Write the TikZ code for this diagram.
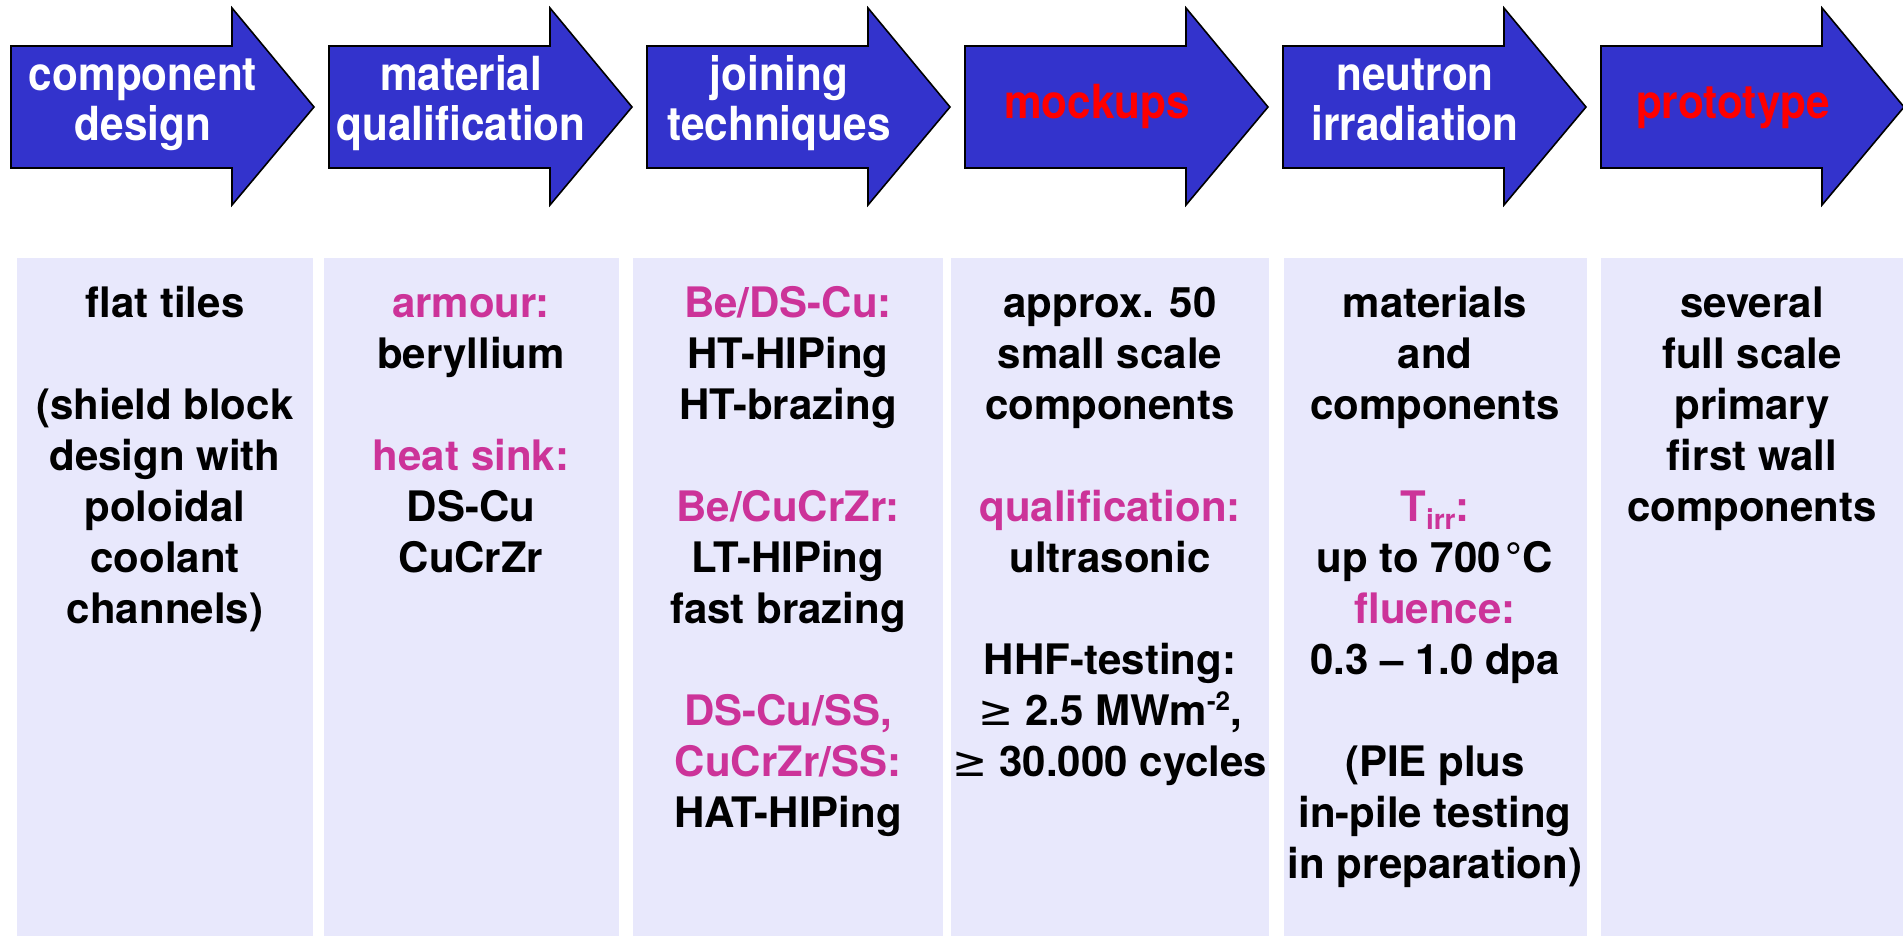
\documentclass[tikz,border=0pt]{standalone}
\usepackage{fontspec}
\setmainfont{TeX Gyre Heros}
\newfontfamily\stagefont{TeX Gyre Heros}[FakeStretch=0.9]
\newfontfamily\symfont{DejaVu Sans}
\definecolor{arrowblue}{RGB}{51,51,204}
\definecolor{panel}{RGB}{232,232,252}
\definecolor{keyword}{RGB}{204,51,153}
\definecolor{hilite}{RGB}{255,0,0}
% struts that fix the height of the first line of a block
\newcommand\lineone{\rule{0pt}{34pt}}
\newcommand\stagestrut{\rule{0pt}{38pt}}
\newcommand\kw[1]{{\color{keyword}#1}}
\newcommand\gesign{{\symfont\mdseries ≥}}
\begin{document}
\begin{tikzpicture}[x=1pt,y=-1pt,
  stagearrow/.style={fill=arrowblue,draw=black,line width=1.6pt,line join=miter},
  stagelabel/.style={font=\stagefont\fontsize{47}{50}\selectfont\bfseries,align=center,inner sep=0pt,anchor=north},
  panelbox/.style={fill=panel,draw=none},
  paneltext/.style={font=\fontsize{42}{51}\selectfont\bfseries,align=center,inner sep=0pt,anchor=north,text=black}]
\useasboundingbox (0,0) rectangle (1903,936);

% process steps
\foreach \i/\txt/\col/\ty in {1/{component\\design}/white/52,
                              2/{material\\qualification}/white/52,
                              3/{joining\\techniques}/white/52,
                              4/{mockups}/hilite/80,
                              5/{neutron\\irradiation}/white/52,
                              6/{prototype}/hilite/80}{
  \pgfmathsetmacro\L{11+318*(\i-1)}
  \path[stagearrow] (\L,46) -- ++(221,0) -- ++(0,-38) -- (\L+303,107)
        -- (\L+221,205) -- ++(0,-37) -- (\L,168) -- cycle;
  \node[stagelabel,text=\col] (stage\i) at (\L+132,\ty) {\stagestrut\txt};
}

% detail panels
\path[panelbox] (17,258) rectangle (313,936);
\path[panelbox] (324,258) rectangle (619,936);
\path[panelbox] (633,258) rectangle (943,936);
\path[panelbox] (951,258) rectangle (1269,936);
\path[panelbox] (1284,258) rectangle (1587,936);
\path[panelbox] (1601,258) rectangle (1903,936);

\node[paneltext] (info1) at (165,283) {\lineone flat tiles\\[51pt]
  (shield block\\ design with\\ poloidal\\ coolant\\ channels)};
\node[paneltext] (info2) at (471,283) {\lineone\kw{armour:}\\ beryllium\\[51pt]
  \kw{heat sink:}\\ DS-Cu\\ CuCrZr};
\node[paneltext] (info3) at (788,283) {\lineone\kw{Be/DS-Cu:}\\ HT-HIPing\\ HT-brazing\\[51pt]
  \kw{Be/CuCrZr:}\\ LT-HIPing\\ fast brazing\\[51pt]
  \kw{DS-Cu/SS,}\\ \kw{CuCrZr/SS:}\\ HAT-HIPing};
\node[paneltext] (info4) at (1110,283) {\lineone approx. 50\\ small scale\\ components\\[51pt]
  \kw{qualification:}\\ ultrasonic\\[51pt]
  HHF-testing:\\ \gesign\ 2.5 MWm\raisebox{15pt}{\fontsize{26}{26}\selectfont -2},\\
  \gesign\ 30.000 cycles};
\node[paneltext] (info5) at (1435,283) {\lineone materials\\ and\\ components\\[51pt]
  \kw{T\raisebox{-8pt}{\fontsize{28}{28}\selectfont irr}:}\\ up to 700\hspace{5pt}°C\\
  \kw{fluence:}\\ 0.3 – 1.0 dpa\\[51pt]
  (PIE plus\\ in-pile testing\\ in preparation)};
\node[paneltext] (info6) at (1752,283) {\lineone several\\ full scale\\ primary\\ first wall\\ components};
\end{tikzpicture}
\end{document}
